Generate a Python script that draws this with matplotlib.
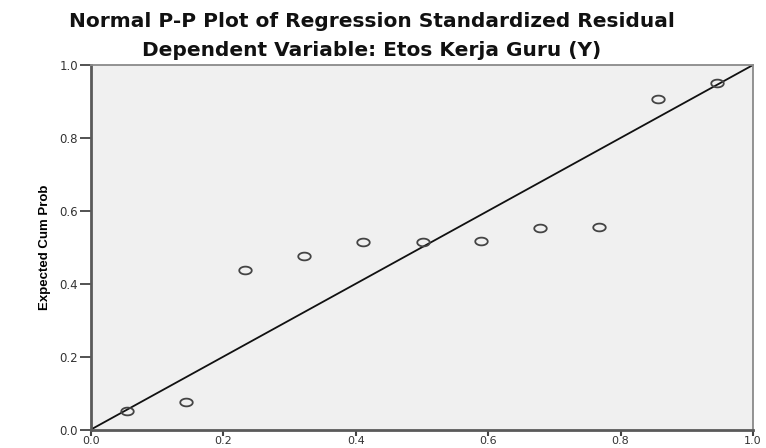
import numpy as np
import matplotlib
matplotlib.use("Agg")
import matplotlib.pyplot as plt
from matplotlib.path import Path

# Data
observed_cum_prob = [0.055, 0.144, 0.233, 0.322, 0.411, 0.501, 0.589, 0.679, 0.768, 0.857, 0.946]
expected_cum_prob = [0.052, 0.075, 0.437, 0.477, 0.514, 0.514, 0.516, 0.554, 0.556, 0.907, 0.950]
tick_values = [0.0, 0.2, 0.4, 0.6, 0.8, 1.0]
tick_labels = ["0.0", "0.2", "0.4", "0.6", "0.8", "1.0"]
title_main = "Normal P-P Plot of Regression Standardized Residual"
title_sub = "Dependent Variable: Etos Kerja Guru (Y)"
y_label = "Expected Cum Prob"

W, H = 766, 448
fig = plt.figure(figsize=(W / 100, H / 100), dpi=100)
fig.patch.set_facecolor("white")
ax = fig.add_axes([91 / W, (H - 429.5) / H, (753 - 91) / W, (429.5 - 65) / H])
ax.set_facecolor("#f0f0f0")

# diagonal reference line
ax.plot([0, 1], [0, 1], color="#111111", lw=1.3, zorder=2)

# elliptical open-circle marker
t = np.linspace(0, 2 * np.pi, 41)
ell = Path(np.column_stack([np.cos(t), 0.62 * np.sin(t)]), closed=True)
ax.plot(observed_cum_prob, expected_cum_prob, linestyle="none", marker=ell,
        markersize=9, markerfacecolor="none", markeredgecolor="#444444",
        markeredgewidth=1.3, zorder=3)

ax.set_xlim(0, 1)
ax.set_ylim(0, 1)
ax.set_xticks(tick_values)
ax.set_xticklabels(tick_labels)
ax.set_yticks(tick_values)
ax.set_yticklabels(tick_labels)

for s in ["left", "bottom"]:
    ax.spines[s].set_color("#5a5a5a")
    ax.spines[s].set_linewidth(2.0)
for s in ["top", "right"]:
    ax.spines[s].set_color("#8a8a8a")
    ax.spines[s].set_linewidth(1.3)

ax.tick_params(axis="y", direction="out", length=8, width=1.3, color="#444444",
               pad=1.5, labelsize=8.5, labelcolor="#333333")
ax.tick_params(axis="x", direction="out", length=4.5, width=1.5, color="#444444",
               pad=0.5, labelsize=8, labelcolor="#333333")
for lab in ax.get_xticklabels() + ax.get_yticklabels():
    lab.set_family("DejaVu Sans")

ax.set_ylabel(y_label, fontsize=9.5, fontweight="bold", family="Liberation Sans",
              labelpad=6, color="#000000")

fig.text(372 / W, 1 - 27.3 / H, title_main, ha="center", va="baseline",
         fontsize=14.5, fontweight="bold", family="DejaVu Sans", color="#111111")
fig.text(372 / W, 1 - 56 / H, title_sub, ha="center", va="baseline",
         fontsize=14.5, fontweight="bold", family="DejaVu Sans", color="#111111")

fig.savefig("out.png", dpi=100)
